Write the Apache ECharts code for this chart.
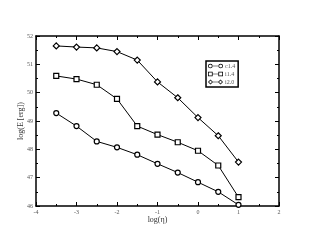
<!DOCTYPE html>
<html><head><meta charset="utf-8">
<script src="https://cdn.jsdelivr.net/npm/echarts@6/dist/echarts.min.js"></script>
<style>html,body{margin:0;padding:0;background:#fff}#c{width:314px;height:243px}</style>
</head><body><div id="c"></div>
<script>
const xValues = [-3.5, -3, -2.5, -2, -1.5, -1, -0.5, 0, 0.5, 1];
const seriesNames = ['c1.4', 'i1.4', 'i2.0'];
const c14 = [49.28, 48.82, 48.28, 48.07, 47.81, 47.49, 47.18, 46.84, 46.50, 46.04];
const i14 = [50.59, 50.48, 50.28, 49.78, 48.82, 48.52, 48.25, 47.95, 47.43, 46.31];
const i20 = [51.65, 51.61, 51.58, 51.45, 51.15, 50.38, 49.82, 49.12, 48.48, 47.55];
const xTicks = [-4, -3, -2, -1, 0, 1, 2];
const yTicks = [46, 47, 48, 49, 50, 51, 52];

const F = '"Liberation Serif", "DejaVu Serif", serif';
const pair = (xs, ys) => xs.map((x, i) => [x, ys[i]]);
const ring = (cx) => `M${cx-4.5},5 a4.5,4.5 0 1,0 9,0 a4.5,4.5 0 1,0 -9,0 Z M${cx-3},5 a3,3 0 1,1 6,0 a3,3 0 1,1 -6,0 Z`;
const sq = (cx) => `M${cx-4.5},0.5 h9 v9 h-9 Z M${cx-3},2 v6 h6 v-6 Z`;
const dm = (cx) => `M${cx},0 l5,5 l-5,5 l-5,-5 Z M${cx},2 l-3,3 l3,3 l3,-3 Z`;
const bar = 'M9,4.3 h12 v1.4 h-12 Z';
const icons = [
  'path://' + ring(5) + ' ' + bar + ' ' + ring(25),
  'path://' + sq(5) + ' ' + bar + ' ' + sq(25),
  'path://' + dm(5) + ' ' + bar + ' ' + dm(25)
];
const symbols = ['circle', 'rect', 'diamond'];
const dataSets = [c14, i14, i20];

const axisCommon = {
  type: 'value',
  axisLine: { show: true, onZero: false, lineStyle: { color: '#000', width: 1.5 } },
  axisTick: { show: true, inside: true, length: 4, lineStyle: { color: '#000', width: 1 } },
  minorTick: { show: true, splitNumber: 2, length: 2, lineStyle: { color: '#000', width: 1 } },
  splitLine: { show: false },
  interval: 1
};

const chart = echarts.init(document.getElementById('c'), null, { renderer: 'canvas' });
chart.setOption({
  animation: false,
  backgroundColor: '#fff',
  grid: { left: 36, right: 35, top: 36, bottom: 37 },
  xAxis: [
    Object.assign({}, axisCommon, {
      min: xTicks[0], max: xTicks[xTicks.length - 1], position: 'bottom',
      name: 'log(η)', nameLocation: 'middle', nameGap: 10, nameMoveOverlap: false,
      nameTextStyle: { fontFamily: F, fontSize: 8, color: '#333' },
      axisLabel: { fontFamily: F, fontSize: 6, color: '#555', margin: 3,
        formatter: v => xTicks.includes(v) ? String(v) : '' }
    }),
    Object.assign({}, axisCommon, {
      min: xTicks[0], max: xTicks[xTicks.length - 1], position: 'top',
      axisLabel: { show: false }
    })
  ],
  yAxis: [
    Object.assign({}, axisCommon, {
      min: yTicks[0], max: yTicks[yTicks.length - 1], position: 'left',
      name: 'log(E [erg])', nameLocation: 'middle', nameGap: 11, nameMoveOverlap: false,
      nameTextStyle: { fontFamily: F, fontSize: 8, color: '#333' },
      axisLabel: { fontFamily: F, fontSize: 6, color: '#555', margin: 3,
        formatter: v => yTicks.includes(v) ? String(v) : '' }
    }),
    Object.assign({}, axisCommon, {
      min: yTicks[0], max: yTicks[yTicks.length - 1], position: 'right',
      axisLabel: { show: false }
    })
  ],
  legend: {
    orient: 'vertical',
    left: 206, top: 61,
    itemWidth: 15, itemHeight: 5, itemGap: 2,
    padding: [2, 3, 2, 2],
    borderColor: '#000', borderWidth: 1.5,
    textStyle: { fontFamily: F, fontSize: 6, color: '#555', padding: [0, 0, 0, -3] },
    data: seriesNames.map((n, i) => ({ name: n, icon: icons[i], itemStyle: { color: '#000', borderWidth: 0 } }))
  },
  series: seriesNames.map((n, i) => ({
    name: n,
    type: 'line',
    data: pair(xValues, dataSets[i]),
    symbol: symbols[i],
    symbolSize: i === 2 ? 6 : 5,
    showAllSymbol: true,
    lineStyle: { color: '#000', width: 1 },
    itemStyle: { color: '#fff', borderColor: '#000', borderWidth: 1.2 },
    z: 3
  }))
});
</script></body></html>
